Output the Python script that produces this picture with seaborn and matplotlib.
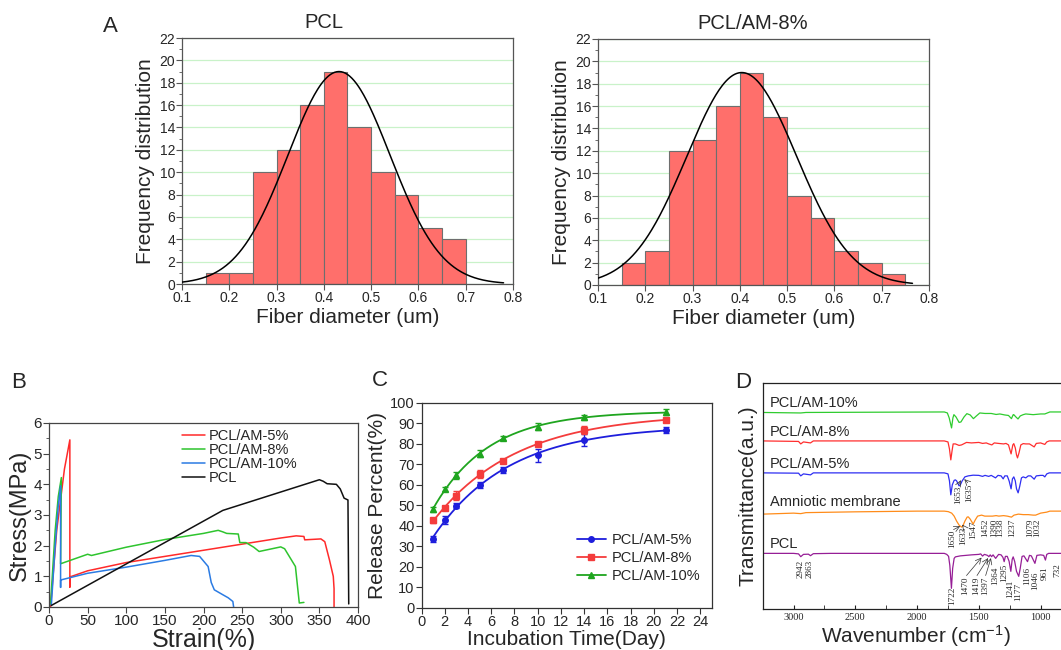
import numpy as np
import pandas as pd
import seaborn as sns
import matplotlib.pyplot as plt
from matplotlib.lines import Line2D
from matplotlib.ticker import MultipleLocator

sns.set_style('ticks')
plt.rcParams['font.family'] = ['Liberation Sans', 'DejaVu Sans']
plt.rcParams['mathtext.fontset'] = 'custom'
plt.rcParams['mathtext.rm'] = 'Liberation Sans'
plt.rcParams['mathtext.it'] = 'Liberation Sans'

# ---------------- A: fiber diameter histograms ----------------
edges_pcl = [0.15, 0.20, 0.25, 0.30, 0.35, 0.40, 0.45, 0.50, 0.55, 0.60, 0.65, 0.70]
counts_pcl = [1, 1, 10, 12, 16, 19, 14, 10, 8, 5, 4]
edges_am8 = [0.15, 0.20, 0.25, 0.30, 0.35, 0.40, 0.45, 0.50, 0.55, 0.60, 0.65, 0.70, 0.75]
counts_am8 = [2, 3, 12, 13, 16, 19, 15, 8, 6, 3, 2, 1]
# gaussian fit: mean, sd, height, x range
fit_pcl = [0.432, 0.108, 19.0, 0.10, 0.78]
fit_am8 = [0.404, 0.116, 19.0, 0.10, 0.765]

# ---------------- B: stress-strain ----------------
strain_am5 = [2, 10, 20, 27, 27, 27, 50, 100, 150, 200, 250, 300, 320, 330, 331, 352, 357, 363, 368, 369, 369]
stress_am5 = [0, 2.5, 4.5, 5.45, 0.65, 0.98, 1.18, 1.45, 1.65, 1.85, 2.05, 2.25, 2.32, 2.30, 2.19, 2.22, 2.13, 1.54, 1.0, 0.6, 0]
strain_am8 = [2, 8, 12, 16, 15, 50, 55, 100, 150, 200, 219, 225, 230, 245, 247, 255, 265, 272, 300, 305, 319, 322, 324, 330]
stress_am8 = [0.1, 2.5, 3.6, 4.22, 1.41, 1.72, 1.68, 1.95, 2.2, 2.4, 2.5, 2.45, 2.40, 2.38, 2.1, 2.1, 1.95, 1.81, 1.96, 1.9, 1.32, 0.6, 0.13, 0.15]
strain_am10 = [3, 8, 12, 15, 15, 15, 50, 100, 150, 184, 195, 206, 210, 214, 225, 232, 238, 239]
stress_am10 = [0.05, 2.0, 3.3, 3.95, 0.64, 0.88, 1.1, 1.3, 1.52, 1.68, 1.65, 1.32, 0.8, 0.56, 0.4, 0.3, 0.18, 0]
strain_pcl = [3, 225, 350, 355, 360, 372, 377, 382, 387, 388]
stress_pcl = [0.05, 3.15, 4.15, 4.1, 4.02, 4.0, 3.85, 3.55, 3.49, 0.1]

# ---------------- C: release ----------------
days = [1, 2, 3, 5, 7, 10, 14, 21]
rel_am5 = [33.6, 42.9, 49.8, 60.0, 67.2, 74.4, 82.1, 86.8]
err_am5 = [1.6, 2.0, 1.3, 1.6, 1.3, 3.3, 2.9, 1.3]
rel_am8 = [42.7, 48.8, 54.8, 65.3, 71.9, 80.1, 86.8, 91.5]
err_am8 = [1.3, 1.0, 2.0, 2.0, 0.5, 1.0, 2.0, 0.5]
rel_am10 = [48.1, 57.9, 64.6, 75.2, 82.9, 88.4, 93.0, 95.4]
err_am10 = [1.2, 1.0, 1.6, 1.6, 1.0, 1.6, 1.3, 1.5]

# ---------------- D: FTIR (vertices: wavenumber, depth below baseline) ----------------
wn_pcl = [3250, 3000, 2960, 2942, 2920, 2880, 2863, 2840, 2700, 1780, 1760, 1745, 1735, 1722, 1712, 1700, 1690,
          1650, 1560, 1500, 1485, 1470, 1455, 1430, 1419, 1408, 1397, 1385, 1364, 1340, 1320, 1305, 1295, 1285,
          1270, 1255, 1241, 1230, 1222, 1210, 1195, 1177, 1165, 1150, 1135, 1106, 1090, 1075, 1046, 1030, 1000,
          975, 961, 950, 935, 760]
dp_pcl = [0, 0, 0.5, 3.3, 1, 0.8, 2.3, 0.3, 0, 0, 1, 3, 12, 35, 15, 5, 3.5,
          2.5, 1.5, 1, 0.5, 2.7, 1, 2, 3.3, 1.5, 3.3, 1.5, 5, 1, 1.5, 4, 8.3, 3,
          3, 8, 18, 6, 3.5, 8, 18, 23, 15, 3, 2.5, 8.3, 2, 2.5, 10, 2, 1.5,
          2, 6.7, 1, 0, 0]
wn_am = [3250, 3000, 2942, 2900, 2500, 2000, 1780, 1748, 1720, 1700, 1680, 1660, 1640, 1630, 1613, 1595, 1586,
         1570, 1546, 1530, 1510, 1478, 1452, 1420, 1390, 1360, 1338, 1300, 1270, 1236, 1215, 1180, 1141, 1100,
         1060, 1040, 1000, 950, 925, 760]
dp_am = [3, 2, 2.5, 1.5, 0.7, 0, 0, 0.5, 2, 5, 10, 14, 16, 15, 10, 6, 5.7,
         8, 13, 9, 5, 4, 5, 5, 5, 4.5, 5, 4.5, 5, 6, 4, 3, 3.5, 3.5,
         4, 4, 2, 1, 0, 0]
wn_am5 = [3250, 2960, 2942, 2920, 2863, 2840, 1780, 1750, 1738, 1727, 1715, 1700, 1690, 1680, 1660, 1650, 1635,
          1613, 1586, 1546, 1500, 1470, 1450, 1420, 1400, 1365, 1345, 1320, 1303, 1290, 1270, 1255, 1239, 1228,
          1217, 1205, 1195, 1182, 1170, 1155, 1141, 1120, 1100, 1080, 1052, 1035, 1000, 980, 966, 950, 930, 760]
dp_am5 = [0, 0.3, 3, 1, 2, 0, 0, 1, 8, 22, 12, 7.5, 7, 8, 13, 12, 8,
          4, 3, 2.3, 2.5, 3.5, 2.5, 3.5, 2.5, 5, 2.5, 3, 6, 3, 3, 8, 16, 6,
          4, 8, 16, 20, 14, 5, 4, 5, 3, 3, 6.3, 3, 2.5, 2.5, 4, 1, 0, 0]
wn_am8 = [3250, 2960, 2942, 2920, 2863, 2840, 1780, 1750, 1738, 1727, 1717, 1708, 1690, 1660, 1640, 1600, 1560,
          1500, 1470, 1440, 1420, 1395, 1375, 1340, 1300, 1280, 1260, 1239, 1225, 1217, 1205, 1195, 1187, 1175,
          1160, 1141, 1120, 1090, 1052, 1035, 1000, 966, 950, 930, 760]
dp_am8 = [0, 0.5, 3, 1, 2, 0, 0, 1, 8, 19, 10, 3, 3, 4.5, 4, 1.5, 2,
          1.5, 2.5, 2, 3, 4, 2, 2.5, 3, 2.5, 4, 13, 4, 2.7, 7, 14, 17, 12,
          4, 2.7, 3, 3, 6, 2.5, 2, 3.5, 1, 0, 0]
wn_am10 = [3250, 2942, 2900, 1780, 1755, 1740, 1721, 1710, 1702, 1685, 1660, 1645, 1620, 1597, 1570, 1544, 1520,
           1492, 1450, 1400, 1360, 1330, 1290, 1260, 1236, 1222, 1217, 1200, 1183, 1165, 1141, 1120, 1060, 1000,
           966, 925, 760]
dp_am10 = [0.5, 1, 0.5, 0, 1, 6, 16, 6, 2.7, 5, 10.5, 10, 5, 1.7, 3, 6.7, 4,
           1, 1.5, 1.5, 2.5, 2, 3, 3.5, 6.7, 2.7, 2.7, 5, 7, 4, 2.7, 2, 2.7, 2,
           2, 0, 0]
ftir_names = ['PCL/AM-10%', 'PCL/AM-8%', 'PCL/AM-5%', 'Amniotic membrane', 'PCL']
ftir_offsets = [197.3, 168.3, 136.3, 98.0, 55.7]

pcl_peak_text = ['2942', '2863', '1722', '1470', '1419', '1397', '1364', '1295', '1241', '1177', '1106', '1046', '961', '732']
am_peak_text = ['1650', '1633', '1547', '1452', '1390', '1338', '1237', '1079', '1032']
am5_peak_text = ['1653', '1635']

# label placement (wavenumber, top in axis units)
pcl_label_xy = [(2943, 49), (2868, 49), (1713, 22.3), (1613, 32.3), (1524, 32.3), (1451, 32.3), (1370, 42.3),
                (1292, 45.7), (1246, 29.5), (1181, 25.7), (1108, 42.3), (1046, 37.3), (965, 42.3), (868, 45.7)]
am_label_xy = [(1713, 79), (1626, 82.3), (1545, 89), (1451, 90.7), (1378, 90.7), (1324, 90.7), (1229, 90.7),
               (1083, 90.7), (1027, 90.7)]
am5_label_xy = [(1667, 124), (1581, 126)]

W, H = 1061, 650
fig = plt.figure(figsize=(W / 100, H / 100), dpi=100)


def box(l, t, r, b):
    return [l / W, 1 - b / H, (r - l) / W, (b - t) / H]


bar_col = '#FF6F6B'
grid_col = '#C9F2C9'
spine_col = '#555555'


def hist_panel(ax, edges, counts, fit, title, tx):
    centers = [(edges[i] + edges[i + 1]) / 2 for i in range(len(counts))]
    sns.histplot(x=centers, weights=counts, bins=edges, ax=ax, color=bar_col, alpha=1,
                 edgecolor='#6E6E6E', linewidth=0.8, zorder=2)
    mu, sd, h, lo, hi = fit
    xs = np.linspace(lo, hi, 300)
    sns.lineplot(x=xs, y=h * np.exp(-(xs - mu) ** 2 / (2 * sd ** 2)), ax=ax, color='black', lw=1.1, zorder=3)
    ax.set_xlim(0.1, 0.8)
    ax.set_ylim(0, 22)
    ax.xaxis.set_major_locator(MultipleLocator(0.1))
    ax.yaxis.set_major_locator(MultipleLocator(2))
    ax.yaxis.set_minor_locator(MultipleLocator(1))
    ax.grid(axis='y', which='major', color=grid_col, lw=0.9, zorder=0)
    ax.set_axisbelow(True)
    ax.tick_params(which='both', direction='out', labelsize=10, color=spine_col, pad=1)
    ax.tick_params(which='major', length=4)
    ax.tick_params(which='minor', length=2)
    for s in ax.spines.values():
        s.set_color(spine_col)
        s.set_linewidth(0.9)
    ax.set_xlabel('Fiber diameter (um)', fontsize=15, labelpad=2)
    ax.set_ylabel('Frequency distribution', fontsize=15, labelpad=3)
    ax.text(tx, 1.065, title, transform=ax.transAxes, ha='center', va='center', fontsize=14.5)


axA1 = fig.add_axes(box(182, 38, 513, 284))
hist_panel(axA1, edges_pcl, counts_pcl, fit_pcl, 'PCL', 0.43)
axA2 = fig.add_axes(box(598, 39, 929, 285))
hist_panel(axA2, edges_am8, counts_am8, fit_am8, 'PCL/AM-8%', 0.468)

# ---------------- B ----------------
axB = fig.add_axes(box(49, 423, 358, 607))
b_series = [(strain_am5, stress_am5, 'PCL/AM-5%', '#FF2A2A'),
            (strain_am8, stress_am8, 'PCL/AM-8%', '#2EC42E'),
            (strain_am10, stress_am10, 'PCL/AM-10%', '#2B7BE3'),
            (strain_pcl, stress_pcl, 'PCL', '#111111')]
for xs, ys, lab, col in b_series:
    sns.lineplot(x=xs, y=ys, sort=False, estimator=None, ax=axB, color=col, lw=1.1, label=lab)
axB.set_xlim(0, 400)
axB.set_ylim(0, 6)
axB.xaxis.set_major_locator(MultipleLocator(50))
axB.yaxis.set_major_locator(MultipleLocator(1))
axB.yaxis.set_minor_locator(MultipleLocator(0.5))
axB.tick_params(which='both', direction='out', labelsize=11, color='#444444', pad=1)
axB.tick_params(which='major', length=4)
axB.tick_params(which='minor', length=2)
for s in axB.spines.values():
    s.set_color('#444444')
    s.set_linewidth(0.9)
axB.set_xlabel('Strain(%)', fontsize=18, labelpad=0)
axB.set_ylabel('Stress(MPa)', fontsize=17, labelpad=2)
axB.legend(loc='upper left', bbox_to_anchor=(0.41, 1.0), frameon=False, fontsize=10.5,
           handlelength=1.6, handletextpad=0.3, labelspacing=0.0, borderaxespad=0)

# ---------------- C ----------------
axC = fig.add_axes(box(421.5, 403, 712, 607.7))


def exp_fit(t, y):
    t = np.asarray(t, float)
    y = np.asarray(y, float)
    best = None
    for k in np.linspace(0.02, 1.0, 981):
        A = np.column_stack([np.ones_like(t), np.exp(-k * t)])
        coef = np.linalg.lstsq(A, y, rcond=None)[0]
        err = np.sum((A @ coef - y) ** 2)
        if best is None or err < best[0]:
            best = (err, k, coef)
    return best[1], best[2]


c_series = [(rel_am5, err_am5, 'PCL/AM-5%', '#1E1EDC', 'o', 4),
            (rel_am8, err_am8, 'PCL/AM-8%', '#F43C3C', 's', 4),
            (rel_am10, err_am10, 'PCL/AM-10%', '#1FA51F', '^', 4.5)]
handles = []
for ys, es, lab, col, mk, ms in c_series:
    k, coef = exp_fit(days, ys)
    tt = np.linspace(days[0], days[-1], 200)
    sns.lineplot(x=tt, y=coef[0] + coef[1] * np.exp(-k * tt), ax=axC, color=col, lw=1.3)
    axC.errorbar(days, ys, yerr=es, fmt=mk, ms=ms, color=col, ecolor=col, elinewidth=1, capsize=2.2, capthick=1)
    handles.append(Line2D([], [], color=col, marker=mk, ms=ms, lw=1.3, label=lab))
axC.set_xlim(0, 25)
axC.set_ylim(0, 100)
axC.xaxis.set_major_locator(MultipleLocator(2))
axC.yaxis.set_major_locator(MultipleLocator(10))
axC.tick_params(direction='out', labelsize=10.5, length=4, color='#333333', pad=1)
for s in axC.spines.values():
    s.set_color('#333333')
    s.set_linewidth(0.9)
axC.set_xlabel('Incubation Time(Day)', fontsize=15, labelpad=1)
axC.set_ylabel('Release Percent(%)', fontsize=15, labelpad=2)
axC.legend(handles=handles, loc='lower right', bbox_to_anchor=(0.98, 0.09), frameon=False, fontsize=10.5,
           handlelength=2.0, handletextpad=0.4, labelspacing=0.3, borderaxespad=0)

# ---------------- D ----------------
axD = fig.add_axes(box(762.7, 383, 1070, 609))
d_series = [(wn_am10, dp_am10, '#2FCC2F'), (wn_am8, dp_am8, '#FF2E2E'), (wn_am5, dp_am5, '#2E2EF2'),
            (wn_am, dp_am, '#FF8C1A'), (wn_pcl, dp_pcl, '#961E96')]
for (wn, dp, col), name, off in zip(d_series, ftir_names, ftir_offsets):
    sns.lineplot(x=wn, y=[off - d for d in dp], sort=False, estimator=None, ax=axD, color=col, lw=0.9)
    axD.text(3192, off + 9, name, fontsize=10.5, ha='left', va='center')
axD.set_xlim(3250, 762)
axD.set_ylim(0, 226.3)
axD.set_yticks([])
axD.xaxis.set_major_locator(MultipleLocator(500))
axD.xaxis.set_minor_locator(MultipleLocator(250))
axD.tick_params(axis='x', which='both', direction='in', length=3, color='#222222', pad=3)
for lab in axD.get_xticklabels():
    lab.set_family('Liberation Serif')
    lab.set_fontsize(7.5)
axD.spines['right'].set_visible(False)
for s in ['left', 'top', 'bottom']:
    axD.spines[s].set_color('#222222')
    axD.spines[s].set_linewidth(0.9)
axD.set_xlabel('Wavenumber (cm$^{-1}$)', fontsize=15, labelpad=1)
axD.set_ylabel('Transmittance(a.u.)', fontsize=15, labelpad=4)

serif = dict(family='Liberation Serif', fontsize=6.6, rotation=90, ha='center', va='top')
for txt, (x, y) in zip(pcl_peak_text, pcl_label_xy):
    axD.text(x, y, txt, **serif)
for txt, (x, y) in zip(am_peak_text, am_label_xy):
    axD.text(x, y, txt, **serif)
for txt, (x, y) in zip(am5_peak_text, am5_label_xy):
    axD.text(x, y, txt, **serif)
arrow = dict(arrowstyle='->', lw=0.5, color='#333333', shrinkA=0, shrinkB=0)
for tail, head in [((1600, 33.5), (1478, 51.5)), ((1515, 33.5), (1425, 51)), ((1445, 33.5), (1402, 51)),
                   ((1663, 124.5), (1646, 129)), ((1590, 126.5), (1618, 130)),
                   ((1705, 79.5), (1651, 83)), ((1626, 83), (1635, 84.5))]:
    axD.annotate('', xy=head, xytext=tail, arrowprops=arrow)

# panel letters
for letter, x, y in [('A', 110, 26), ('B', 19, 382), ('C', 380, 381), ('D', 743, 382)]:
    fig.text(x / W, 1 - y / H, letter, fontsize=16, ha='center', va='center')

fig.savefig('out.png', dpi=100)
